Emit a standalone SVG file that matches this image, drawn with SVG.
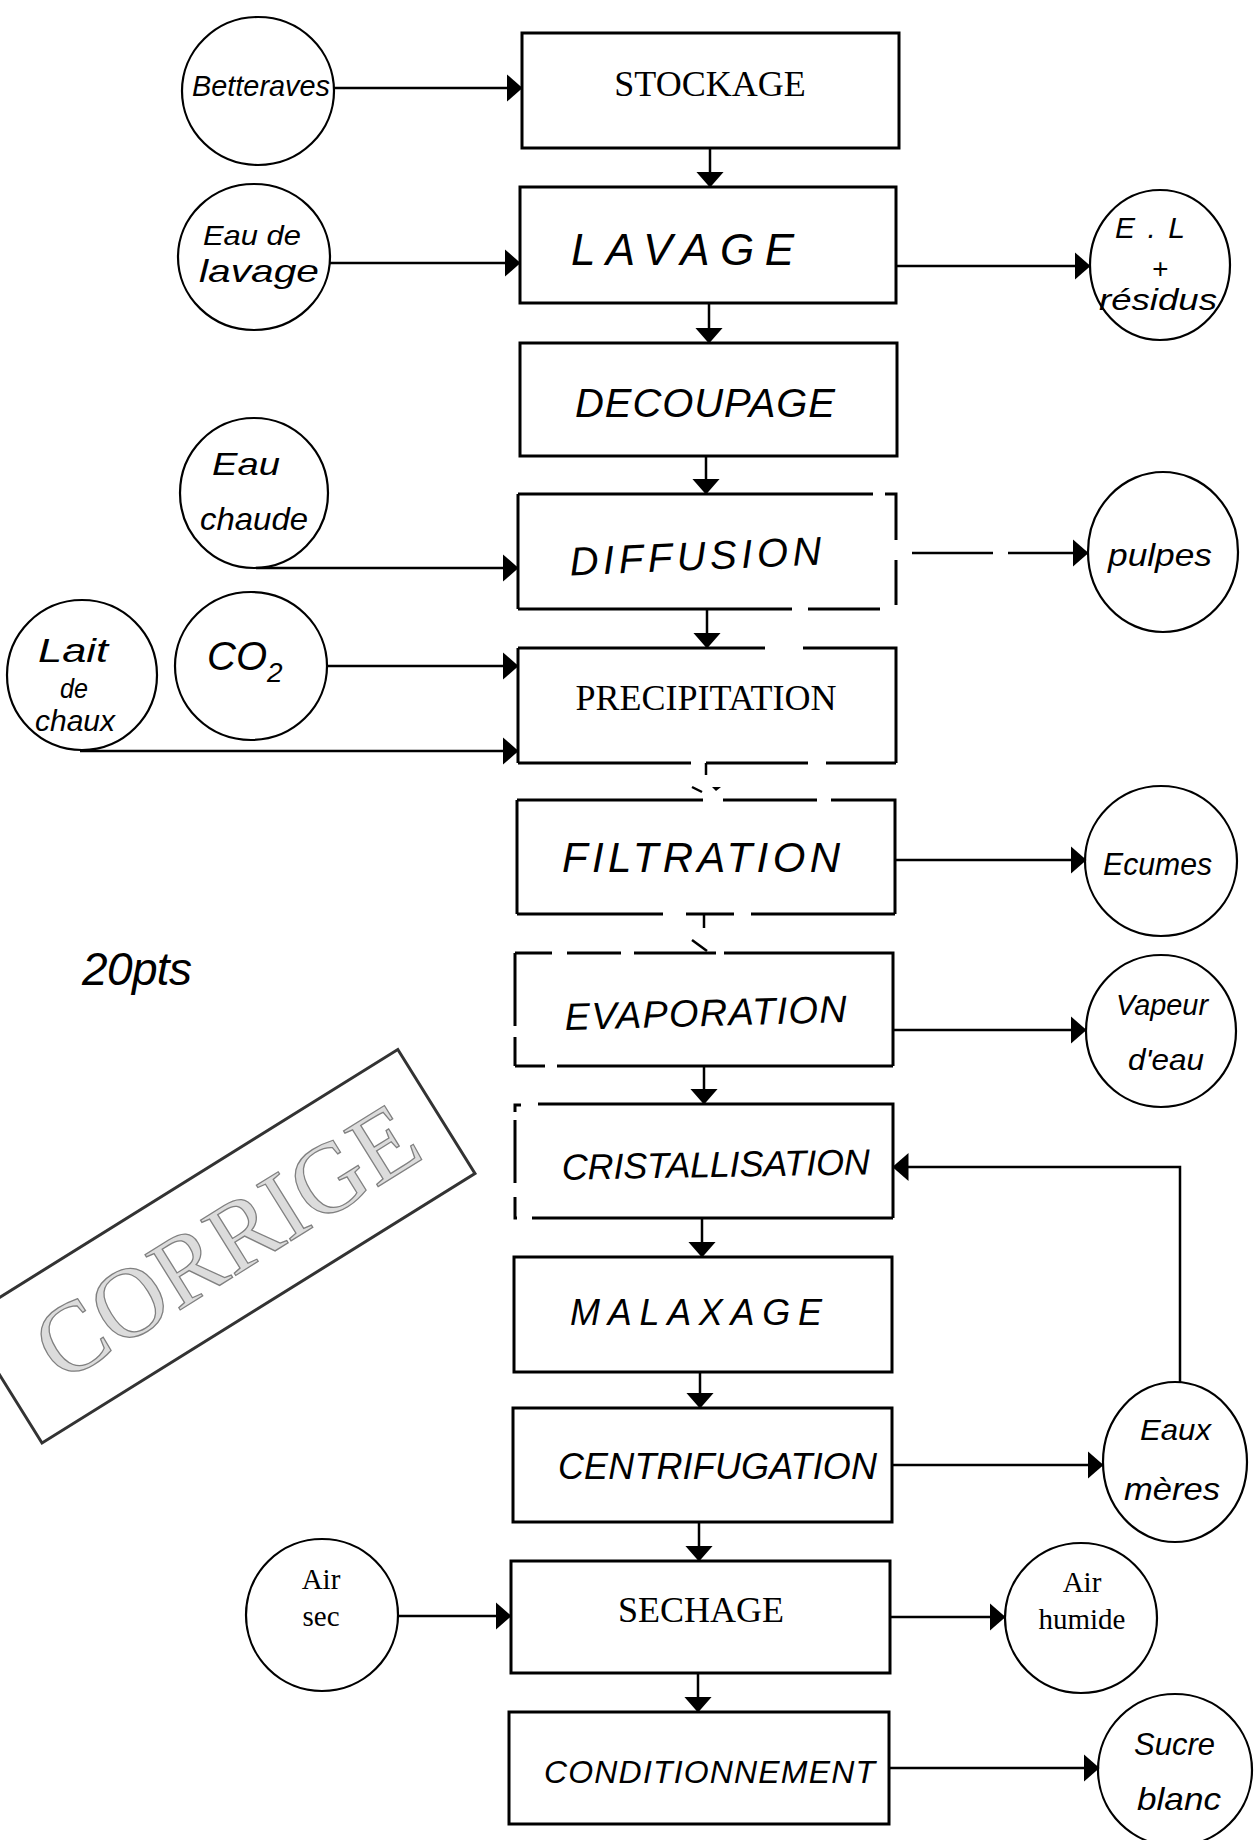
<svg xmlns="http://www.w3.org/2000/svg" width="1254" height="1840" viewBox="0 0 1254 1840">
<style>
.bx{fill:none;stroke:#000;stroke-width:3;stroke-linecap:butt}
.ln{fill:none;stroke:#000;stroke-width:2.5}
.lna{fill:none;stroke:#000;stroke-width:2.5;marker-end:url(#ah)}
.cr{fill:none;stroke:#000;stroke-width:2.2}
.ty{font-family:"Liberation Serif",serif;font-size:36px;fill:#000;text-anchor:middle}
.ty2{font-family:"Liberation Serif",serif;font-size:29px;fill:#000;text-anchor:middle}
.hw{font-family:"Liberation Sans",sans-serif;font-style:italic;fill:#000}
</style>
<defs>
<marker id="ah" markerUnits="userSpaceOnUse" markerWidth="16" markerHeight="28" viewBox="0 0 16 28" refX="15.5" refY="14" orient="auto">
<path d="M0,0 L16,14 L0,28 Z" fill="#000"/>
</marker>
</defs>
<rect width="1254" height="1840" fill="#fff"/>

<g id="stamp" transform="translate(42,1443) rotate(-31.9)">
<rect x="0" y="-146" width="510" height="146" fill="none" stroke="#333" stroke-width="3"/>
<text x="263" y="-40" text-anchor="middle" font-family="Liberation Serif,serif" font-size="100" textLength="430" lengthAdjust="spacingAndGlyphs" fill="#dcdcdc" stroke="#808080" stroke-width="1.3">CORRIGE</text>
</g>

<g id="note-20pts"><text class="hw" x="82" y="985" font-size="46" textLength="110">20pts</text></g>

<g id="connectors">
<path class="lna" d="M710,148 V187"/>
<path class="lna" d="M709,303 V343"/>
<path class="lna" d="M706,456 V494"/>
<path class="lna" d="M707,609 V648"/>
<path class="ln" d="M706,763 V775"/>
<path class="ln" d="M692,787 L702,792" stroke-width="3"/>
<path d="M712,787 L721,787 L716,791 Z" fill="#000"/>
<path class="ln" d="M704,914 V928"/>
<path class="ln" d="M692,940 L707,951" stroke-width="4.5"/>
<path class="lna" d="M704,1066 V1104"/>
<path class="lna" d="M702,1218 V1257"/>
<path class="lna" d="M700,1372 V1408"/>
<path class="lna" d="M699,1522 V1561"/>
<path class="lna" d="M698,1673 V1712"/>

<path class="lna" d="M334,88 H522"/>
<path class="lna" d="M330,263 H520"/>
<path class="lna" d="M896,266 H1090"/>
<path class="lna" d="M256,568 H518"/>
<path class="ln" d="M912,553 H993"/>
<path class="lna" d="M1008,553 H1088"/>
<path class="lna" d="M327,666 H518"/>
<path class="lna" d="M80,751 H518"/>
<path class="lna" d="M895,860 H1086"/>
<path class="lna" d="M893,1030 H1086"/>
<path class="lna" d="M1180,1382 V1167 H893"/>
<path class="lna" d="M892,1465 H1103"/>
<path class="lna" d="M398,1616 H511"/>
<path class="lna" d="M890,1617 H1005"/>
<path class="lna" d="M889,1768 H1099"/>
</g>

<g id="stockage">
<rect class="bx" x="522" y="33" width="377" height="115"/>
<text class="ty" x="710" y="96">STOCKAGE</text>
</g>
<g id="lavage">
<rect class="bx" x="520" y="187" width="376" height="116"/>
<text class="hw" x="571" y="265" font-size="44" textLength="223">LAVAGE</text>
</g>
<g id="decoupage">
<rect class="bx" x="520" y="343" width="377" height="113"/>
<text class="hw" x="575" y="417" font-size="40" textLength="260">DECOUPAGE</text>
</g>
<g id="diffusion">
<path class="bx" d="M518,494 H873 M885,494 H896 V540 M896,560 V605 M518,494 V609 M518,609 H792 M808,609 H880"/>
<text class="hw" x="570" y="570" font-size="40" textLength="252" transform="rotate(-2.5 696 568)">DIFFUSION</text>
</g>
<g id="precipitation">
<path class="bx" d="M518,648 H765 M803,648 H896 V763 M518,648 V763 M518,763 H691 M706,763 H808 M826,763 H896"/>
<text class="ty" x="706" y="710">PRECIPITATION</text>
</g>
<g id="filtration">
<path class="bx" d="M517,800 H703 M723,800 H817 M831,800 H895 V914 M517,800 V914 M517,914 H663 M686,914 H734 M751,914 H895"/>
<text class="hw" x="562" y="872" font-size="42" textLength="278">FILTRATION</text>
</g>
<g id="evaporation">
<path class="bx" d="M515,953 H552 M567,953 H621 M634,953 H716 M724,953 H893 V1066 M515,953 V1026 M515,1037 V1066 M515,1066 H545 M557,1066 H893"/>
<text class="hw" x="565" y="1026" font-size="38" textLength="282" transform="rotate(-1.6 706 1024)">EVAPORATION</text>
</g>
<g id="cristallisation">
<path class="bx" d="M515,1112 V1105 H521 M538,1104 H893 V1218 M515,1120 V1183 M515,1197 V1218 H517 M532,1218 H893"/>
<text class="hw" x="562" y="1177" font-size="36" textLength="308" transform="rotate(-1 716 1175)">CRISTALLISATION</text>
</g>
<g id="malaxage">
<rect class="bx" x="514" y="1257" width="378" height="115"/>
<text class="hw" x="570" y="1325" font-size="36" textLength="252">MALAXAGE</text>
</g>
<g id="centrifugation">
<rect class="bx" x="513" y="1408" width="379" height="114"/>
<text class="hw" x="558" y="1479" font-size="36" textLength="319">CENTRIFUGATION</text>
</g>
<g id="sechage">
<rect class="bx" x="511" y="1561" width="379" height="112"/>
<text class="ty" x="701" y="1622">SECHAGE</text>
</g>
<g id="conditionnement">
<rect class="bx" x="509" y="1712" width="380" height="112"/>
<text class="hw" x="544" y="1783" font-size="32" textLength="331">CONDITIONNEMENT</text>
</g>

<g id="betteraves">
<ellipse class="cr" cx="258" cy="91" rx="76" ry="74"/>
<text class="hw" x="192" y="96" font-size="30" textLength="138" lengthAdjust="spacingAndGlyphs">Betteraves</text>
</g>
<g id="eau-de-lavage">
<ellipse class="cr" cx="254" cy="257" rx="76" ry="73"/>
<text class="hw" x="203" y="245" font-size="28" textLength="98" lengthAdjust="spacingAndGlyphs">Eau de</text>
<text class="hw" x="199" y="282" font-size="32" textLength="120" lengthAdjust="spacingAndGlyphs">lavage</text>
</g>
<g id="el-residus">
<ellipse class="cr" cx="1160" cy="265" rx="70" ry="75"/>
<text class="hw" x="1115" y="238" font-size="30" textLength="70">E.L</text>
<text class="hw" x="1160" y="278" font-size="28" text-anchor="middle">+</text>
<text class="hw" x="1099" y="310" font-size="30" textLength="118" lengthAdjust="spacingAndGlyphs">résidus</text>
</g>
<g id="eau-chaude">
<ellipse class="cr" cx="254" cy="493" rx="74" ry="75"/>
<text class="hw" x="212" y="475" font-size="32" textLength="68" lengthAdjust="spacingAndGlyphs">Eau</text>
<text class="hw" x="200" y="530" font-size="32" textLength="108" lengthAdjust="spacingAndGlyphs">chaude</text>
</g>
<g id="pulpes">
<ellipse class="cr" cx="1163" cy="552" rx="75" ry="80"/>
<text class="hw" x="1108" y="566" font-size="32" textLength="104" lengthAdjust="spacingAndGlyphs">pulpes</text>
</g>
<g id="co2">
<ellipse class="cr" cx="251" cy="666" rx="76" ry="74"/>
<text class="hw" x="207" y="670" font-size="40">CO<tspan font-size="28" dy="12">2</tspan></text>
</g>
<g id="lait-de-chaux">
<ellipse class="cr" cx="82" cy="675" rx="75" ry="75"/>
<text class="hw" x="38" y="662" font-size="34" textLength="70" lengthAdjust="spacingAndGlyphs">Lait</text>
<text class="hw" x="60" y="698" font-size="28" textLength="28" lengthAdjust="spacingAndGlyphs">de</text>
<text class="hw" x="35" y="731" font-size="30" textLength="80" lengthAdjust="spacingAndGlyphs">chaux</text>
</g>
<g id="ecumes">
<ellipse class="cr" cx="1161" cy="861" rx="76" ry="75"/>
<text class="hw" x="1103" y="875" font-size="32" textLength="109" lengthAdjust="spacingAndGlyphs">Ecumes</text>
</g>
<g id="vapeur">
<ellipse class="cr" cx="1161" cy="1031" rx="75" ry="76"/>
<text class="hw" x="1116" y="1015" font-size="30" textLength="92" lengthAdjust="spacingAndGlyphs">Vapeur</text>
<text class="hw" x="1128" y="1070" font-size="30" textLength="76" lengthAdjust="spacingAndGlyphs">d'eau</text>
</g>
<g id="eaux-meres">
<ellipse class="cr" cx="1175" cy="1462" rx="72" ry="80"/>
<text class="hw" x="1140" y="1440" font-size="30" textLength="71" lengthAdjust="spacingAndGlyphs">Eaux</text>
<text class="hw" x="1124" y="1500" font-size="32" textLength="96" lengthAdjust="spacingAndGlyphs">mères</text>
</g>
<g id="air-sec">
<ellipse class="cr" cx="322" cy="1615" rx="76" ry="76"/>
<text class="ty2" x="321" y="1589">Air</text>
<text class="ty2" x="321" y="1626">sec</text>
</g>
<g id="air-humide">
<ellipse class="cr" cx="1081" cy="1618" rx="76" ry="75"/>
<text class="ty2" x="1082" y="1592">Air</text>
<text class="ty2" x="1082" y="1629">humide</text>
</g>
<g id="sucre-blanc">
<ellipse class="cr" cx="1175" cy="1770" rx="77" ry="76"/>
<text class="hw" x="1134" y="1755" font-size="32" textLength="81" lengthAdjust="spacingAndGlyphs">Sucre</text>
<text class="hw" x="1137" y="1810" font-size="32" textLength="84" lengthAdjust="spacingAndGlyphs">blanc</text>
</g>
</svg>
